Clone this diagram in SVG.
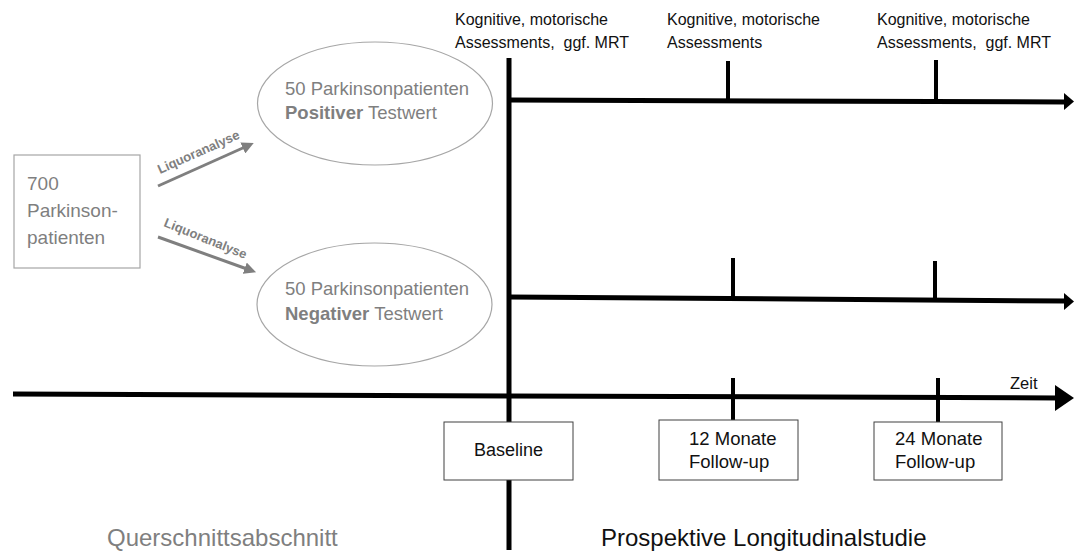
<svg xmlns="http://www.w3.org/2000/svg" width="1074" height="552" viewBox="0 0 1074 552">
<style>
.g{font-family:"Liberation Sans",Arial,sans-serif;fill:#7f7f7f}
.k{font-family:"Liberation Sans",Arial,sans-serif;fill:#111}
.ln{stroke:#000;stroke-width:5;fill:none}
.tk{stroke:#000;stroke-width:4;fill:none}
.bx{fill:#fff;stroke:#404040;stroke-width:1}
.gs{fill:#fff;stroke:#a6a6a6;stroke-width:1.2}
.ga{stroke:#7f7f7f;stroke-width:3;fill:none}
</style>
<defs>
<marker id="ag" viewBox="0 0 10 10" refX="2" refY="5" markerWidth="4" markerHeight="4" orient="auto" markerUnits="strokeWidth"><path d="M0,0L10,5L0,10z" fill="#7f7f7f"/></marker>
</defs>
<rect width="1074" height="552" fill="#fff"/>
<g id="connectors">
<line class="ga" x1="158" y1="186" x2="245" y2="147" marker-end="url(#ag)"/>
<line class="ga" x1="158" y1="237" x2="247" y2="269" marker-end="url(#ag)"/>
<line class="ln" x1="509" y1="58" x2="509" y2="550"/>
<line class="ln" x1="509" y1="100" x2="1066" y2="102"/>
<path d="M1064,93L1074,101.5L1064,110z" fill="#000"/>
<line class="ln" x1="509" y1="297" x2="1066" y2="301"/>
<path d="M1064,293L1074,301.5L1064,310z" fill="#000"/>
<line class="ln" x1="13" y1="394" x2="1058" y2="398"/>
<path d="M1055,385L1074,398L1055,411z" fill="#000"/>
<line class="tk" x1="728" y1="61" x2="728" y2="101"/>
<line class="tk" x1="936" y1="60" x2="936" y2="101"/>
<line class="tk" x1="733" y1="258" x2="733" y2="299"/>
<line class="tk" x1="935" y1="261" x2="935" y2="300"/>
<line class="tk" x1="733" y1="378" x2="733" y2="420"/>
<line class="tk" x1="938" y1="378" x2="938" y2="422"/>
</g>
<g id="label-liquor-1"><text class="g" font-size="13" font-weight="bold" transform="translate(160,174) rotate(-24)">Liquoranalyse</text></g>
<g id="label-liquor-2"><text class="g" font-size="13" font-weight="bold" transform="translate(163,226) rotate(22)">Liquoranalyse</text></g>
<g id="node-700">
<rect class="gs" x="14" y="155" width="126" height="113"/>
<text class="g" font-size="19" x="27" y="190">700</text>
<text class="g" font-size="19" x="27" y="217">Parkinson-</text>
<text class="g" font-size="19" x="27" y="244">patienten</text>
</g>
<g id="node-positiv">
<ellipse class="gs" cx="375" cy="103.5" rx="117.5" ry="61.5"/>
<text class="g" font-size="18.5" x="285" y="95">50 Parkinsonpatienten</text>
<text class="g" font-size="18.5" x="285" y="119"><tspan font-weight="bold">Positiver</tspan> Testwert</text>
</g>
<g id="node-negativ">
<ellipse class="gs" cx="374.5" cy="304.5" rx="117.5" ry="61.5"/>
<text class="g" font-size="18.5" x="285" y="295">50 Parkinsonpatienten</text>
<text class="g" font-size="18.5" x="285" y="320"><tspan font-weight="bold">Negativer</tspan> Testwert</text>
</g>
<g id="label-assess-0">
<text class="k" font-size="16" x="455" y="25">Kognitive, motorische</text>
<text class="k" font-size="16" x="455" y="48">Assessments,&#160; ggf. MRT</text>
</g>
<g id="label-assess-12">
<text class="k" font-size="16" x="667" y="25">Kognitive, motorische</text>
<text class="k" font-size="16" x="667" y="48">Assessments</text>
</g>
<g id="label-assess-24">
<text class="k" font-size="16" x="877" y="25">Kognitive, motorische</text>
<text class="k" font-size="16" x="877" y="48">Assessments,&#160; ggf. MRT</text>
</g>
<g id="label-zeit"><text class="k" font-size="16.5" x="1010" y="389">Zeit</text></g>
<g id="node-baseline">
<rect class="bx" x="444" y="422" width="129" height="58"/>
<text class="k" font-size="18" x="508.5" y="456" text-anchor="middle">Baseline</text>
</g>
<g id="node-12">
<rect class="bx" x="659" y="420" width="139" height="60"/>
<text class="k" font-size="18.5" x="689" y="445">12 Monate</text>
<text class="k" font-size="18.5" x="689" y="468">Follow-up</text>
</g>
<g id="node-24">
<rect class="bx" x="874" y="422" width="128" height="58"/>
<text class="k" font-size="18.5" x="895" y="445">24 Monate</text>
<text class="k" font-size="18.5" x="895" y="468">Follow-up</text>
</g>
<g id="label-quer"><text class="g" font-size="24" x="107" y="546">Querschnittsabschnitt</text></g>
<g id="label-prosp"><text class="k" font-size="24" x="601" y="546">Prospektive Longitudinalstudie</text></g>
</svg>
